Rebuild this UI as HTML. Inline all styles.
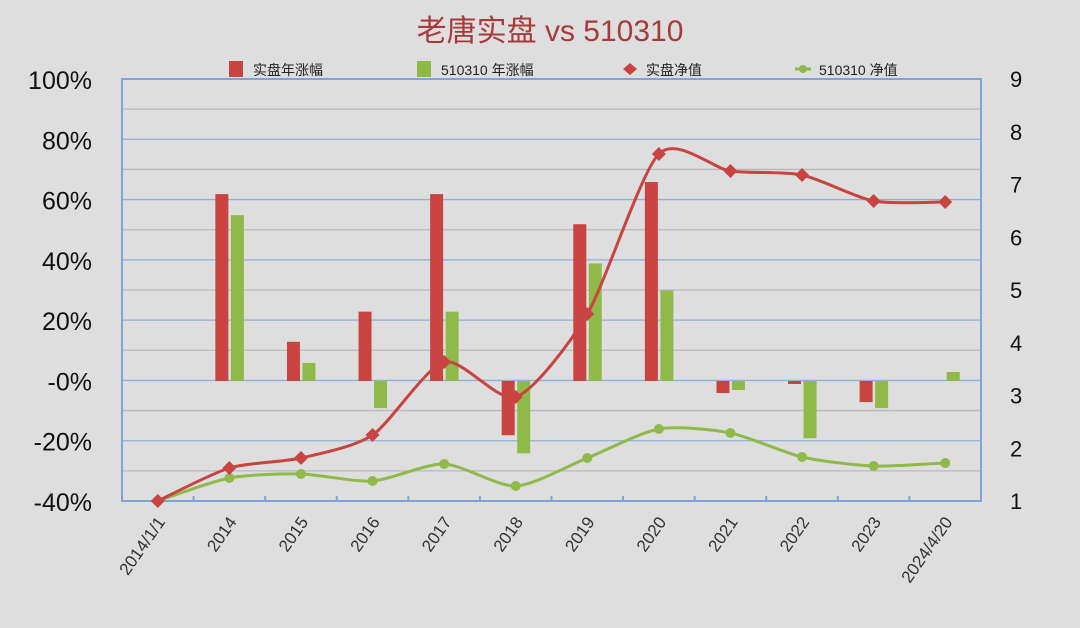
<!DOCTYPE html>
<html><head><meta charset="utf-8"><style>
html,body{margin:0;padding:0;background:#dedede;}
svg{display:block;font-family:"Liberation Sans","Noto Sans CJK SC",sans-serif;}
</style></head><body>
<svg id="c" width="1080" height="628" viewBox="0 0 1080 628" xmlns="http://www.w3.org/2000/svg">
<rect width="1080" height="628" fill="#dedede"/>
<text x="550" y="41" text-anchor="middle" font-size="30" fill="#a83a3a">老唐实盘 vs 510310</text>
<rect x="229" y="61" width="14" height="16" fill="#c84440"/>
<text x="253" y="75" font-size="14" fill="#222">实盘年涨幅</text>
<rect x="417" y="61" width="14" height="16" fill="#8fba4a"/>
<text x="441" y="75" font-size="14" fill="#222">510310 年涨幅</text>
<path d="M630 63 L637 69 L630 75 L623 69 Z" fill="#c84440"/>
<text x="646" y="75" font-size="14" fill="#222">实盘净值</text>
<line x1="795" y1="69" x2="811" y2="69" stroke="#8fba4a" stroke-width="3"/>
<circle cx="803" cy="69" r="4" fill="#8fba4a"/>
<text x="819" y="75" font-size="14" fill="#222">510310 净值</text>
<g id="g"></g>
</svg>
<script>
const ns="http://www.w3.org/2000/svg",g=document.getElementById('g');
function el(t,a,txt){const e=document.createElementNS(ns,t);for(const k in a)e.setAttribute(k,a[k]);if(txt!=null)e.textContent=txt;g.appendChild(e);return e;}
const L=122,R=981,T=79,B=501;
for(let i=0;i<=14;i++){const y=B-i*(B-T)/14;el('line',{x1:L,x2:R,y1:y,y2:y,stroke:i%2?'#b8b8c0':'#8fb0d8','stroke-width':1.3});}
el('rect',{x:L,y:T,width:R-L,height:B-T,fill:'none',stroke:'#7fa3d6','stroke-width':2});
const ly=['100%','80%','60%','40%','20%','-0%','-20%','-40%'];
ly.forEach((t,i)=>el('text',{x:92,y:T+i*(B-T)/7+10,'text-anchor':'end','font-size':25,fill:'#111'},t));
for(let i=1;i<=9;i++)el('text',{x:1010,y:B-(i-1)*(B-T)/8+8,'font-size':22,fill:'#111'},i);
const cw=(R-L)/12;
for(let i=1;i<12;i++){const x=L+i*cw;el('line',{x1:x,x2:x,y1:B,y2:B-5,stroke:'#7fa3d6','stroke-width':2});}
const cats=['2014/1/1','2014','2015','2016','2017','2018','2019','2020','2021','2022','2023','2024/4/20'];
cats.forEach((c,i)=>{const x=L+(i+0.5)*cw+8;el('text',{x:x,y:522,'text-anchor':'end','font-size':17,fill:'#333',transform:`rotate(-55 ${x} 522)`},c);});
const y0=381,sc=3.015;
const red=[null,62,13,23,62,-18,52,66,-4,-1,-7,null],grn=[null,55,6,-9,23,-24,39,30,-3,-19,-9,3];
function bar(v,x,col){if(v==null)return;const y=v>=0?y0-v*sc:y0;el('rect',{x:x,y:y,width:13,height:Math.abs(v)*sc,fill:col});}
for(let i=0;i<12;i++){const c=L+(i+0.5)*cw;bar(red[i],c-14,'#c84440');bar(grn[i],c+1.5,'#8fba4a');}
const ry=[501,468,458,435,362,397,314,154,171,175,201,202],gy=[501,478,474,481,464,486,458,429,433,457,466,463];
function smooth(ys){const p=ys.map((y,i)=>[L+(i+0.5)*cw,y]);let d=`M${p[0][0]} ${p[0][1]}`;
for(let i=0;i<p.length-1;i++){const p0=p[i-1]||p[i],p1=p[i],p2=p[i+1],p3=p[i+2]||p2;const k=1/8;
d+=` C${p1[0]+(p2[0]-p0[0])*k} ${p1[1]+(p2[1]-p0[1])*k} ${p2[0]-(p3[0]-p1[0])*k} ${p2[1]-(p3[1]-p1[1])*k} ${p2[0]} ${p2[1]}`;}return [d,p];}
let [dg,pg]=smooth(gy);el('path',{d:dg,fill:'none',stroke:'#8fba4a','stroke-width':3});
pg.forEach(p=>el('circle',{cx:p[0],cy:p[1],r:5,fill:'#8fba4a'}));
let [dr,pr]=smooth(ry);el('path',{d:dr,fill:'none',stroke:'#c84440','stroke-width':3});
pr.forEach(p=>el('path',{d:`M${p[0]} ${p[1]-7}L${p[0]+7} ${p[1]}L${p[0]} ${p[1]+7}L${p[0]-7} ${p[1]}Z`,fill:'#c84440'}));
</script>
</body></html>
